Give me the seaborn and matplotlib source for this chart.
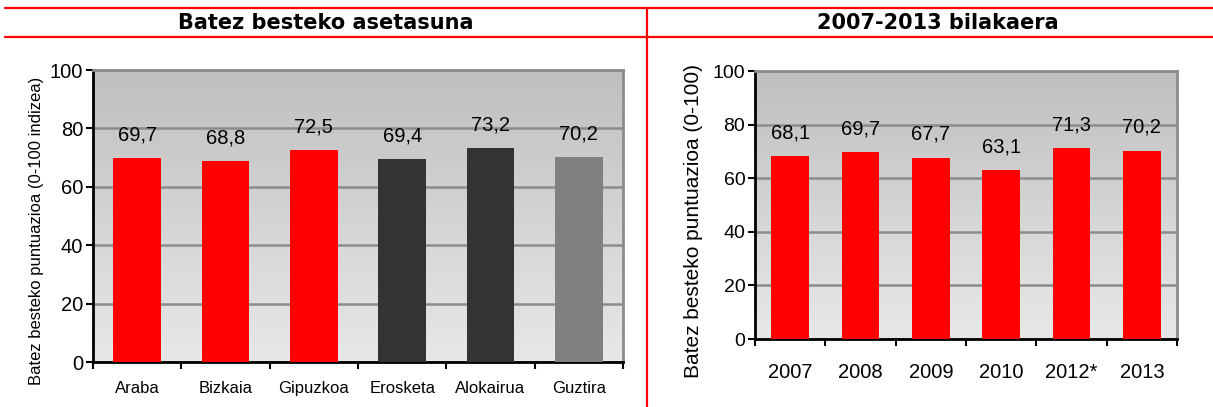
import numpy as np
import pandas as pd
import matplotlib
matplotlib.use('Agg')
import matplotlib.pyplot as plt
import seaborn as sns
from matplotlib.colors import LinearSegmentedColormap
from matplotlib.lines import Line2D

# Datuak
kategoriak = ['Araba', 'Bizkaia', 'Gipuzkoa', 'Erosketa', 'Alokairua', 'Guztira']
asetasuna = [69.7, 68.8, 72.5, 69.4, 73.2, 70.2]
koloreak = ['#ff0000', '#ff0000', '#ff0000', '#333333', '#333333', '#808080']

urteak = ['2007', '2008', '2009', '2010', '2012*', '2013']
bilakaera = [68.1, 69.7, 67.7, 63.1, 71.3, 70.2]

sns.set_style('white')
plt.rcParams['font.family'] = ['Liberation Sans', 'DejaVu Sans']
plt.rcParams['text.color'] = 'black'
plt.rcParams['axes.labelcolor'] = 'black'
plt.rcParams['xtick.color'] = 'black'
plt.rcParams['ytick.color'] = 'black'

W, H = 1213, 407
fig = plt.figure(figsize=(W / 100, H / 100), dpi=100)

def px_axes(x0, y0, x1, y1):
    return fig.add_axes([x0 / W, 1 - y1 / H, (x1 - x0) / W, (y1 - y0) / H])

gradient = LinearSegmentedColormap.from_list('gr', ['#e8e8e8', '#bfbfbf'])

def panel(ax, cats, vals, colors, ylabel, ylab_size, ylab_xy, xtick_size, ytick_size,
          val_size, xpad):
    df = pd.DataFrame({'cat': cats, 'val': vals})
    sns.barplot(data=df, x='cat', y='val', hue='cat', palette=colors,
                legend=False, width=0.54, saturation=1, ax=ax, zorder=3,
                edgecolor='none', linewidth=0)
    n = len(cats)
    ax.imshow(np.linspace(0, 1, 256).reshape(-1, 1), extent=[-0.5, n - 0.5, 0, 100],
              origin='lower', aspect='auto', cmap=gradient, zorder=0)
    ax.set_xlim(-0.5, n - 0.5)
    ax.set_ylim(0, 100)
    ax.set_yticks([0, 20, 40, 60, 80, 100])
    ax.yaxis.grid(True, color='#8c8c8c', linewidth=1.8, zorder=1)
    ax.set_axisbelow(True)
    ax.set_xticks(np.arange(-0.5, n, 1.0), minor=True)
    ax.tick_params(axis='x', which='major', bottom=True, length=0, labelsize=xtick_size, pad=xpad)
    ax.tick_params(axis='x', which='minor', bottom=True, length=5, width=1.5,
                   color='black', direction='out')
    ax.tick_params(axis='y', left=True, length=5, width=1.5, color='black', direction='out',
                   labelsize=ytick_size, pad=2)
    for s in ['left', 'bottom']:
        ax.spines[s].set_color('black')
        ax.spines[s].set_linewidth(2)
    for s in ['right', 'top']:
        ax.spines[s].set_color('#8c8c8c')
        ax.spines[s].set_linewidth(2)
    ax.set_xlabel('')
    ax.set_ylabel(ylabel, fontsize=ylab_size)
    ax.yaxis.set_label_coords(*ylab_xy)
    for c in ax.containers:
        ax.bar_label(c, labels=[f'{v:.1f}'.replace('.', ',') for v in c.datavalues],
                     padding=10, fontsize=val_size)

ax1 = px_axes(93, 70, 623, 362)
panel(ax1, kategoriak, asetasuna, koloreak,
      'Batez besteko puntuazioa (0-100 indizea)', 12, (-0.092, 0.449), 12, 14.5, 14.5, 14)

ax2 = px_axes(755, 71, 1177, 339)
panel(ax2, urteak, bilakaera, ['#ff0000'] * 6,
      'Batez besteko puntuazioa (0-100)', 15, (-0.123, 0.44), 14.5, 14, 14.5, 17)

# Goiburuak
fig.text(326 / W, 1 - 23 / H, 'Batez besteko asetasuna', ha='center', va='center',
         fontsize=15, fontweight='bold', family='DejaVu Sans', color='black')
fig.text(938 / W, 1 - 23 / H, '2007-2013 bilakaera', ha='center', va='center',
         fontsize=15, fontweight='bold', family='DejaVu Sans', color='black')

red = '#ff0000'
for y in [8, 37]:
    fig.add_artist(Line2D([5 / W, 1], [1 - y / H, 1 - y / H], color=red, linewidth=1.6,
                          transform=fig.transFigure))
fig.add_artist(Line2D([647 / W, 647 / W], [1 - 8 / H, 0], color=red, linewidth=1.6,
                      transform=fig.transFigure))

fig.savefig('out.png', dpi=100)
